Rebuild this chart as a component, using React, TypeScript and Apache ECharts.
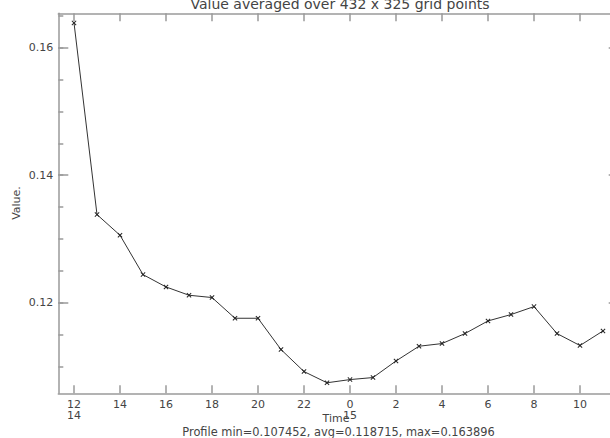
import React, { useEffect, useRef } from "react";
import * as echarts from "echarts";

// Hours since 00:00 on day 14 (12 = 14th 12:00, 24 = 15th 00:00)
const timeHours = [12, 13, 14, 15, 16, 17, 18, 19, 20, 21, 22, 23, 24, 25, 26, 27, 28, 29, 30, 31, 32, 33, 34, 35];
const profileValues = [
  0.163896, 0.13383, 0.13059, 0.12442, 0.12248, 0.12118, 0.12082, 0.11757,
  0.11757, 0.11266, 0.10921, 0.107452, 0.10795, 0.10827, 0.11087, 0.11318,
  0.1136, 0.11517, 0.11715, 0.11815, 0.1194, 0.11517, 0.11329, 0.11558,
];
const xTickValues = [12, 14, 16, 18, 20, 22, 24, 26, 28, 30, 32, 34];
const xTickLabels = ["12", "14", "16", "18", "20", "22", "0", "2", "4", "6", "8", "10"];
const dayLabels: Record<number, string> = { 12: "14", 24: "15" };
const yMajorTicks = [0.12, 0.14, 0.16];
const yMinorTicks = [0.11, 0.115, 0.12, 0.125, 0.13, 0.135, 0.14, 0.145, 0.15, 0.155, 0.16, 0.165];

const titleText = "Value averaged over 432 x 325 grid points";
const yAxisTitle = "Value.";
const xAxisTitle = "Time";
const footerText = "Profile min=0.107452, avg=0.118715, max=0.163896";

const FONT = "DejaVu Sans";
const AXIS_COLOR = "#9a9a9a";
const TEXT_COLOR = "#444444";

export default function App() {
  const ref = useRef<HTMLDivElement>(null);
  useEffect(() => {
    if (!ref.current) return;
    const chart = echarts.init(ref.current, null, { renderer: "svg" });
    const xMin = 11.317;
    const xMax = 35.683;
    const yMin = 0.1058;
    const yMax = 0.1654;
    const axisLine = { show: true, lineStyle: { color: AXIS_COLOR, width: 1.5 } };
    const xLabelFmt = (v: number) => {
      const i = xTickValues.indexOf(Math.round(v));
      const base = i >= 0 ? xTickLabels[i] : "";
      const d = dayLabels[Math.round(v)];
      return d ? base + "\n" + d : base;
    };
    chart.setOption({
      animation: false,
      backgroundColor: "#ffffff",
      grid: { left: 58.3, top: 13.3, width: 560.4, height: 380, containLabel: false },
      xAxis: [
        {
          type: "value", position: "bottom", min: xMin, max: xMax,
          axisLine,
          splitLine: { show: false },
          axisTick: { show: true, inside: true, length: 8, customValues: xTickValues, lineStyle: { color: AXIS_COLOR, width: 1.5 } },
          axisLabel: {
            show: true, customValues: xTickValues, formatter: xLabelFmt,
            fontFamily: FONT, fontSize: 11, color: TEXT_COLOR, margin: 5.5, lineHeight: 11,
          },
        },
        {
          type: "value", position: "top", min: xMin, max: xMax,
          axisLine,
          splitLine: { show: false },
          axisTick: { show: true, inside: true, length: 8, customValues: xTickValues, lineStyle: { color: AXIS_COLOR, width: 1.5 } },
          axisLabel: { show: false },
        },
      ],
      yAxis: [
        {
          type: "value", position: "left", min: yMin, max: yMax,
          axisLine,
          splitLine: { show: false },
          axisTick: { show: true, inside: true, length: 10, customValues: yMajorTicks, lineStyle: { color: AXIS_COLOR, width: 1.5 } },
          axisLabel: {
            show: true, customValues: yMajorTicks, formatter: (v: number) => v.toFixed(2),
            fontFamily: FONT, fontSize: 11, color: TEXT_COLOR, margin: 5,
          },
        },
        {
          type: "value", position: "left", min: yMin, max: yMax,
          axisLine: { show: false },
          splitLine: { show: false },
          axisTick: { show: true, inside: true, length: 5, customValues: yMinorTicks, lineStyle: { color: AXIS_COLOR, width: 1.5 } },
          axisLabel: { show: false },
        },
        {
          type: "value", position: "right", min: yMin, max: yMax,
          axisLine,
          splitLine: { show: false },
          axisTick: { show: true, inside: true, length: 10, customValues: yMajorTicks, lineStyle: { color: AXIS_COLOR, width: 1.5 } },
          axisLabel: { show: false },
        },
        {
          type: "value", position: "right", min: yMin, max: yMax,
          axisLine: { show: false },
          splitLine: { show: false },
          axisTick: { show: true, inside: true, length: 5, customValues: yMinorTicks, lineStyle: { color: AXIS_COLOR, width: 1.5 } },
          axisLabel: { show: false },
        },
      ],
      series: [
        {
          type: "line",
          xAxisIndex: 0,
          yAxisIndex: 0,
          data: timeHours.map((h, i) => [h, profileValues[i]]),
          symbol: "path://M0,1.4L1.4,0L5,3.6L8.6,0L10,1.4L6.4,5L10,8.6L8.6,10L5,6.4L1.4,10L0,8.6L3.6,5Z",
          symbolSize: 5,
          showSymbol: true,
          itemStyle: { color: "#222222" },
          lineStyle: { color: "#333333", width: 1 },
        },
      ],
      graphic: [
        {
          type: "text", x: 340, y: 3.5,
          style: { text: titleText, fontFamily: FONT, fontSize: 14, fill: TEXT_COLOR, align: "center", verticalAlign: "middle" },
        },
        {
          type: "text", x: 16, y: 203, rotation: Math.PI / 2,
          style: { text: yAxisTitle, fontFamily: FONT, fontSize: 11, fill: TEXT_COLOR, align: "center", verticalAlign: "middle" },
        },
        {
          type: "text", x: 336, y: 418,
          style: { text: xAxisTitle, fontFamily: FONT, fontSize: 11, fill: TEXT_COLOR, align: "center", verticalAlign: "middle" },
        },
        {
          type: "text", x: 338.5, y: 432,
          style: { text: footerText, fontFamily: FONT, fontSize: 11.4, fill: TEXT_COLOR, align: "center", verticalAlign: "middle" },
        },
      ],
    });
    return () => chart.dispose();
  }, []);
  return (
    <div
      ref={ref}
      style={{ position: "fixed", left: 0, top: 0, width: 640, height: 438, background: "#fff" }}
    />
  );
}
